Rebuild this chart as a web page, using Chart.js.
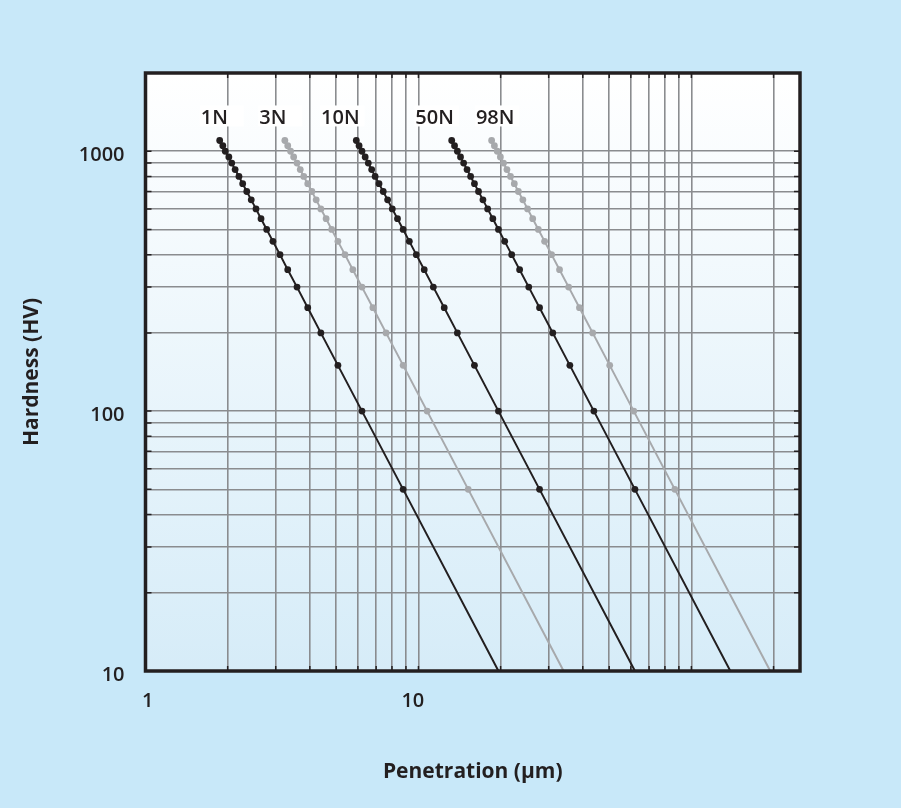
<!DOCTYPE html>
<html>
<head>
<meta charset="utf-8">
<script src="https://cdn.jsdelivr.net/npm/chart.js@4/dist/chart.umd.min.js"></script>
<style>
  html, body { margin: 0; padding: 0; background: #c8e8f9; }
  #wrap { width: 901px; height: 808px; }
</style>
</head>
<body>
<div id="wrap"><canvas id="myChartHardness"></canvas></div>
<script>
// hardness levels where the markers sit (last one = line runs on to the axis, no marker)
const hardness = [1100, 1050, 1000, 950, 900, 850, 800, 750, 700, 650, 600, 550, 500, 450, 400, 350, 300, 250, 200, 150, 100, 50, 10];

// penetration depth (um) read for each load
const pen1N  = [1.87, 1.92, 1.96, 2.02, 2.07, 2.13, 2.20, 2.27, 2.35, 2.44, 2.54, 2.65, 2.78, 2.93, 3.11, 3.32, 3.59, 3.93, 4.39, 5.07, 6.21, 8.79, 19.64];
const pen3N  = [3.24, 3.32, 3.40, 3.49, 3.59, 3.69, 3.80, 3.93, 4.07, 4.22, 4.39, 4.59, 4.81, 5.07, 5.38, 5.75, 6.21, 6.81, 7.61, 8.79, 10.76, 15.22, 34.03];
const pen10N = [5.92, 6.06, 6.21, 6.38, 6.55, 6.74, 6.94, 7.17, 7.43, 7.71, 8.02, 8.38, 8.79, 9.26, 9.82, 10.50, 11.34, 12.43, 13.89, 16.04, 19.64, 27.78, 62.12];
const pen50N = [13.24, 13.56, 13.89, 14.26, 14.64, 15.07, 15.53, 16.04, 16.60, 17.23, 17.93, 18.73, 19.64, 20.70, 21.96, 23.48, 25.36, 27.78, 31.06, 35.87, 43.93, 62.12, 138.9];
const pen98N = [18.54, 18.98, 19.44, 19.96, 20.50, 21.10, 21.74, 22.45, 23.24, 24.13, 25.11, 26.22, 27.50, 28.99, 30.75, 32.88, 35.51, 38.90, 43.49, 50.21, 61.50, 86.97, 194.5];

const loads = ["1N", "3N", "10N", "50N", "98N"];

// grid lines and labelled ticks
const xGrid = [1, 2, 3, 4, 5, 6, 7, 8, 9, 10, 20, 30, 40, 50, 60, 70, 80, 90, 100, 200];
const yGrid = [10, 20, 30, 40, 50, 60, 70, 80, 90, 100, 200, 300, 400, 500, 600, 700, 800, 900, 1000];
const xTickLabels = [1, 10];
const yTickLabels = [10, 100, 1000];

const BLACK = "#231f20";
const GREY = "#a7a9ac";

const mkSet = (label, pen, color) => ({
  label: label,
  data: pen.map((p, i) => ({ x: p, y: hardness[i] })),
  borderColor: color,
  backgroundColor: color,
  borderWidth: 2,
  pointRadius: (ctx) => (ctx.dataIndex === hardness.length - 1 ? 0 : 3.4),
  pointHoverRadius: 0,
  pointBorderWidth: 0,
  tension: 0,
});

// background, plot gradient, inner ticks, frame, load labels
const decorPlugin = {
  id: "decor",
  beforeDraw(chart) {
    const { ctx, chartArea: a } = chart;
    ctx.save();
    ctx.fillStyle = "#c8e8f9";
    ctx.fillRect(0, 0, chart.width, chart.height);
    const g = ctx.createLinearGradient(0, a.top, 0, a.bottom);
    g.addColorStop(0, "#ffffff");
    g.addColorStop(1, "#d6ecf8");
    ctx.fillStyle = g;
    ctx.fillRect(a.left, a.top, a.right - a.left, a.bottom - a.top);
    ctx.restore();
  },
  afterDatasetsDraw(chart, args, opts) {
    const { ctx, chartArea: a, scales } = chart;
    ctx.save();
    // short dark ticks on the inside of the frame
    ctx.strokeStyle = BLACK;
    ctx.lineWidth = 1.5;
    ctx.beginPath();
    yGrid.forEach((v) => {
      const y = scales.y.getPixelForValue(v);
      ctx.moveTo(a.left, y); ctx.lineTo(a.left + 6, y);
      ctx.moveTo(a.right - 6, y); ctx.lineTo(a.right, y);
    });
    xGrid.forEach((v) => {
      const x = scales.x.getPixelForValue(v);
      ctx.moveTo(x, a.bottom); ctx.lineTo(x, a.bottom - 5);
      ctx.moveTo(x, a.top); ctx.lineTo(x, a.top + 5);
    });
    ctx.stroke();
    // frame
    ctx.lineWidth = 3.5;
    ctx.strokeRect(a.left, a.top, a.right - a.left, a.bottom - a.top);
    // load labels in white boxes
    ctx.font = "600 20px 'Open Sans'";
    ctx.textBaseline = "alphabetic";
    ctx.textAlign = "left";
    loads.forEach((name, i) => {
      const x = scales.x.getPixelForValue(opts.labelX[i]);
      const y = scales.y.getPixelForValue(opts.labelY);
      const w = Math.max(44, ctx.measureText(name).width + 6);
      ctx.fillStyle = "#ffffff";
      ctx.fillRect(x, y, w, 21);
      ctx.fillStyle = BLACK;
      ctx.fillText(name, x + 1, y + 19);
    });
    ctx.restore();
  },
};

const myChartHardness = new Chart(document.getElementById("myChartHardness"), {
  type: "line",
  data: {
    datasets: [
      mkSet("1N", pen1N, BLACK),
      mkSet("3N", pen3N, GREY),
      mkSet("10N", pen10N, BLACK),
      mkSet("50N", pen50N, BLACK),
      mkSet("98N", pen98N, GREY),
    ],
  },
  plugins: [decorPlugin],
  options: {
    responsive: true,
    maintainAspectRatio: false,
    animation: false,
    events: [],
    layout: {
      padding: { left: 0, right: 101, top: 73, bottom: 0 },
    },
    plugins: {
      legend: { display: false },
      tooltip: { enabled: false },
      decor: {
        labelX: [1.58, 2.59, 4.36, 9.66, 16.1],
        labelY: 1500,
      },
    },
    scales: {
      x: {
        type: "logarithmic",
        position: "bottom",
        min: 1,
        max: 250,
        afterBuildTicks: (scale) => {
          scale.ticks = xGrid.map((v) => ({ value: v }));
        },
        afterFit: (scale) => {
          scale.height = 137;
        },
        grid: {
          color: "#8a8c8f",
          lineWidth: 1.6,
          drawTicks: false,
        },
        border: { display: false },
        ticks: {
          autoSkip: false,
          maxRotation: 0,
          padding: 18,
          color: BLACK,
          font: { family: "'Open Sans'", size: 20, weight: "600" },
          labelOffset: -3,
          callback: (v) => (v === 1 ? "  1" : v === 10 ? "10 " : ""),
        },
        title: {
          display: true,
          text: "Penetration (μm)",
          color: BLACK,
          font: { family: "'Open Sans'", size: 21, weight: "bold" },
          padding: { bottom: 23 },
        },
      },
      y: {
        type: "logarithmic",
        position: "left",
        min: 10,
        max: 2000,
        afterBuildTicks: (scale) => {
          scale.ticks = yGrid.map((v) => ({ value: v }));
        },
        afterFit: (scale) => {
          scale.width = 145.5;
        },
        grid: {
          color: "#8a8c8f",
          lineWidth: 1.6,
          drawTicks: false,
        },
        border: { display: false },
        ticks: {
          autoSkip: false,
          padding: 21,
          color: BLACK,
          font: { family: "'Open Sans'", size: 20, weight: "600" },
          labelOffset: 4,
          callback: (v) => (yTickLabels.includes(v) ? String(v) : ""),
        },
        title: {
          display: true,
          text: "Hardness (HV)",
          color: BLACK,
          font: { family: "'Open Sans'", size: 21, weight: "bold" },
          padding: { top: 19 },
        },
      },
    },
  },
});
</script>
</body>
</html>
